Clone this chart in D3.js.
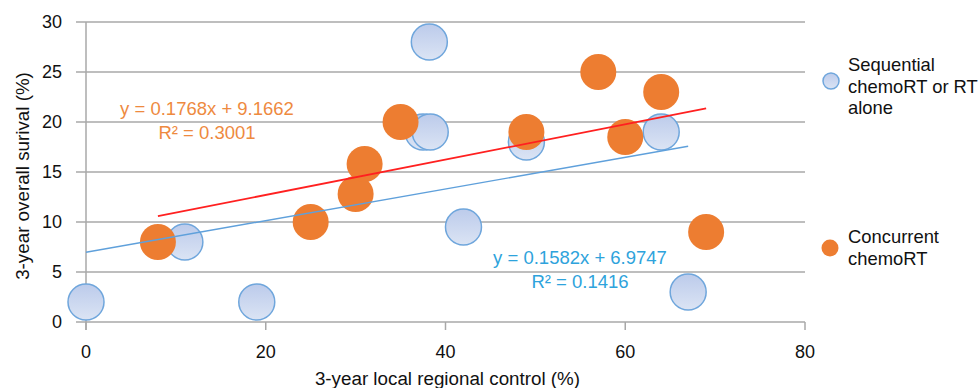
<!DOCTYPE html>
<html>
<head>
<meta charset="utf-8">
<script src="https://cdn.jsdelivr.net/npm/d3@7"></script>
<style>
  html, body { margin: 0; padding: 0; background: #fff; }
  svg { display: block; font-family: Helvetica, Arial, "Liberation Sans", sans-serif; }
</style>
</head>
<body>
<svg id="chart" width="979" height="388"></svg>
<script>
// Sequential chemoRT or RT alone: [local regional control, overall survival]
const sequentialX = [0, 11, 19, 38.2, 37.5, 38.3, 42, 49, 64, 67];
const sequentialY = [2, 8, 2, 28, 19, 19, 9.5, 18, 19, 3];

// Concurrent chemoRT
const concurrentX = [8, 25, 30, 31, 35, 49, 57, 60, 64, 69];
const concurrentY = [8, 10, 12.8, 15.8, 20, 19, 25, 18.5, 23, 9];

// Linear trendlines (slope, intercept) and R² as printed
const sequentialFit = { slope: 0.1582, intercept: 6.9747, r2: 0.1416 };
const concurrentFit = { slope: 0.1768, intercept: 9.1662, r2: 0.3001 };

const xTicks = [0, 20, 40, 60, 80];
const yTicks = [0, 5, 10, 15, 20, 25, 30];

const xTitle = "3-year local regional control (%)";
const yTitle = "3-year overall surival (%)";
const legendSequential = ["Sequential", "chemoRT or RT", "alone"];
const legendConcurrent = ["Concurrent", "chemoRT"];

const svg = d3.select("#chart");
const x = d3.scaleLinear().domain([0, 80]).range([86, 805]);
const y = d3.scaleLinear().domain([0, 30]).range([322, 22]);

const gridColor = "#a8a8a8";
const orange = "#ed7d31";
const blueStroke = "#6fa6dc";
const blueText = "#2ea3dc";
const orangeText = "#ee8a3f";

const defs = svg.append("defs");
const grad = defs.append("linearGradient")
  .attr("id", "blueFill").attr("x1", 0).attr("y1", 0).attr("x2", 0).attr("y2", 1);
grad.append("stop").attr("offset", "0%").attr("stop-color", "#bccbeb");
grad.append("stop").attr("offset", "100%").attr("stop-color", "#dbe4f4");

// Horizontal gridlines
svg.append("g").selectAll("line").data(yTicks).join("line")
  .attr("x1", 76).attr("x2", x(80))
  .attr("y1", d => y(d)).attr("y2", d => y(d))
  .attr("stroke", gridColor).attr("stroke-width", 1.5);

// Vertical axis line
svg.append("line")
  .attr("x1", x(0)).attr("x2", x(0))
  .attr("y1", y(30)).attr("y2", y(0) + 8)
  .attr("stroke", gridColor).attr("stroke-width", 1.5);

// X tick marks
svg.append("g").selectAll("line").data(xTicks).join("line")
  .attr("x1", d => x(d)).attr("x2", d => x(d))
  .attr("y1", y(0)).attr("y2", y(0) + 8)
  .attr("stroke", gridColor).attr("stroke-width", 1.5);

// Tick labels
svg.append("g").selectAll("text").data(yTicks).join("text")
  .attr("x", 62).attr("y", d => y(d)).attr("dy", "0.35em")
  .attr("text-anchor", "end").attr("font-size", 18).attr("fill", "#111")
  .text(d => d);

svg.append("g").selectAll("text").data(xTicks).join("text")
  .attr("x", d => x(d)).attr("y", 352).attr("dy", "0.35em")
  .attr("text-anchor", "middle").attr("font-size", 18).attr("fill", "#111")
  .text(d => d);

// Axis titles
svg.append("text")
  .attr("x", (x(0) + x(80)) / 2 + 2).attr("y", 378).attr("dy", "0.35em")
  .attr("text-anchor", "middle").attr("font-size", 18.8).attr("fill", "#111")
  .text(xTitle);

svg.append("text")
  .attr("transform", `translate(22,176) rotate(-90)`).attr("dy", "0.35em")
  .attr("text-anchor", "middle").attr("font-size", 18.8).attr("fill", "#111")
  .text(yTitle);

// Bubbles
const r = 18;
const seqData = sequentialX.map((v, i) => ({ x: v, y: sequentialY[i] }));
const conData = concurrentX.map((v, i) => ({ x: v, y: concurrentY[i] }));

svg.append("g").selectAll("circle").data(seqData).join("circle")
  .attr("cx", d => x(d.x)).attr("cy", d => y(d.y)).attr("r", r)
  .attr("fill", "url(#blueFill)").attr("stroke", blueStroke).attr("stroke-width", 1.5);

svg.append("g").selectAll("circle").data(conData).join("circle")
  .attr("cx", d => x(d.x)).attr("cy", d => y(d.y)).attr("r", r)
  .attr("fill", orange);

// Trendlines over the data range of each series
function trend(fit, xs, color, width) {
  const x0 = d3.min(xs), x1 = d3.max(xs);
  svg.append("line")
    .attr("x1", x(x0)).attr("y1", y(fit.slope * x0 + fit.intercept))
    .attr("x2", x(x1)).attr("y2", y(fit.slope * x1 + fit.intercept))
    .attr("stroke", color).attr("stroke-width", width);
}
trend(sequentialFit, sequentialX, "#5fa0db", 1.4);
trend(concurrentFit, concurrentX, "#ff2020", 1.8);

// Trendline equations
function eqLabel(fit, cx, cy, color) {
  const g = svg.append("g").attr("fill", color).attr("font-size", 18.5).attr("text-anchor", "middle");
  g.append("text").attr("x", cx).attr("y", cy).attr("dy", "0.35em")
    .text(`y = ${fit.slope.toFixed(4)}x + ${fit.intercept.toFixed(4)}`);
  g.append("text").attr("x", cx).attr("y", cy + 24).attr("dy", "0.35em")
    .text(`R² = ${fit.r2.toFixed(4)}`);
}
eqLabel(concurrentFit, 207, 109, orangeText);
eqLabel(sequentialFit, 580, 258, blueText);

// Legend
const lg = svg.append("g").attr("font-size", 18.4).attr("fill", "#111");
lg.append("circle").attr("cx", 831).attr("cy", 81).attr("r", 8)
  .attr("fill", "url(#blueFill)").attr("stroke", blueStroke).attr("stroke-width", 1.5);
lg.selectAll("text.seq").data(legendSequential).join("text").attr("class", "seq")
  .attr("x", 848).attr("y", (d, i) => 65 + i * 21.5).attr("dy", "0.35em").text(d => d);
lg.append("circle").attr("cx", 830).attr("cy", 248).attr("r", 8.5).attr("fill", orange);
lg.selectAll("text.con").data(legendConcurrent).join("text").attr("class", "con")
  .attr("x", 848).attr("y", (d, i) => 237 + i * 21.5).attr("dy", "0.35em").text(d => d);
</script>
</body>
</html>
